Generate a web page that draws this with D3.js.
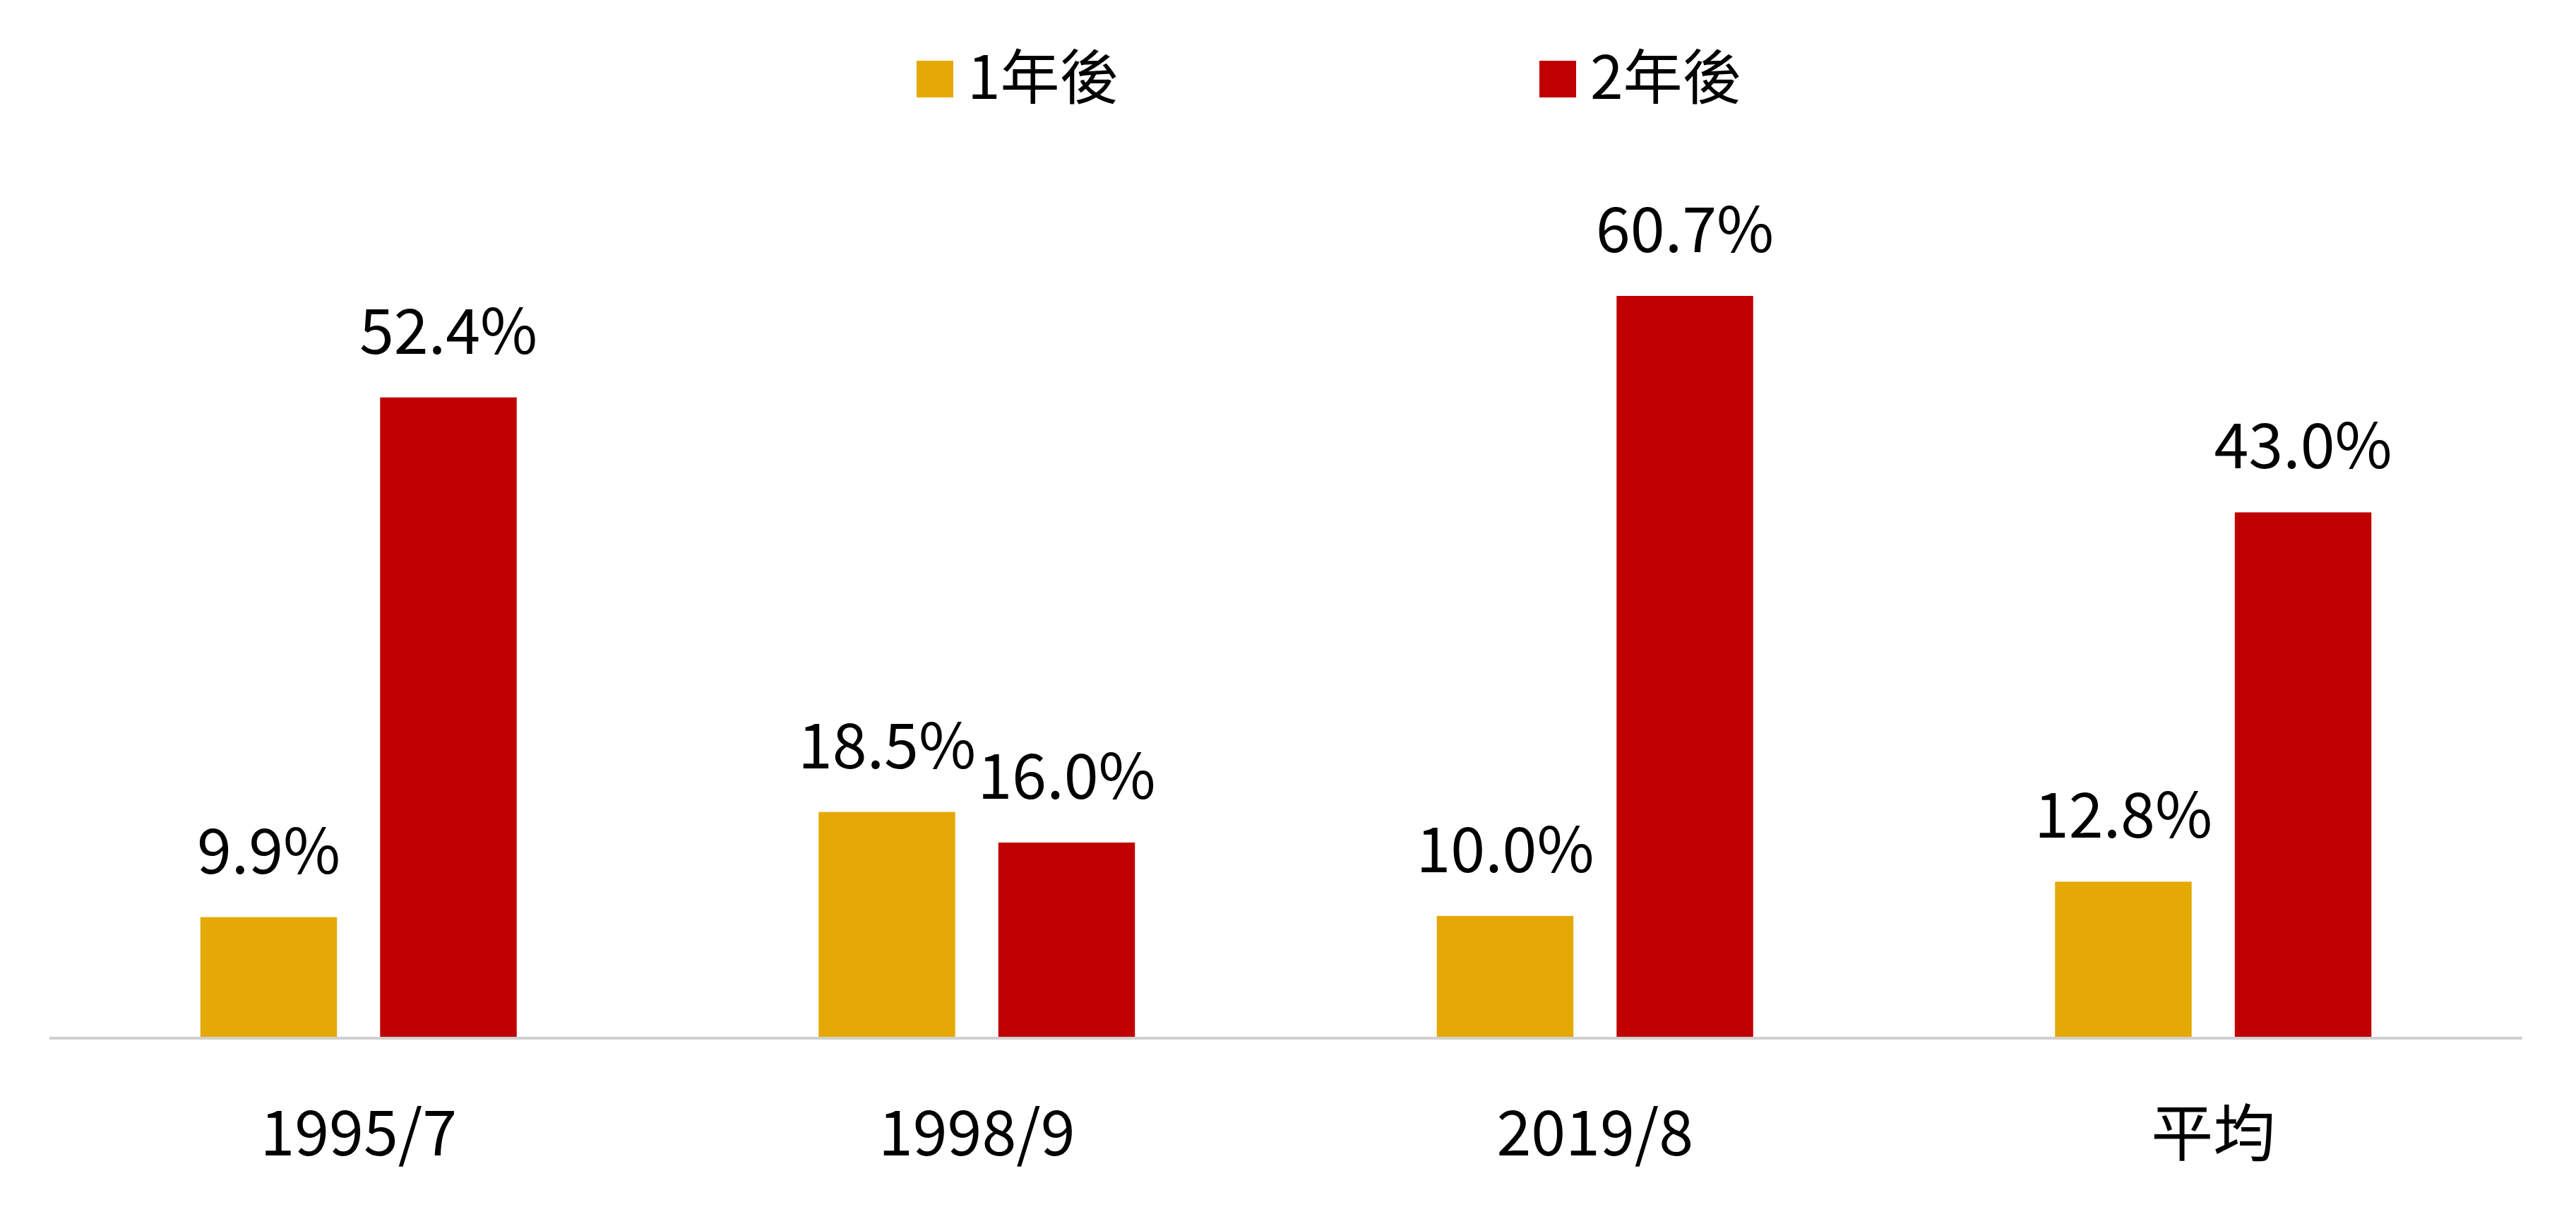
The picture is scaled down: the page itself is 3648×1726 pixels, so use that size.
<!DOCTYPE html>
<html><head><meta charset="utf-8">
<script src="https://cdn.jsdelivr.net/npm/d3@7"></script>
<style>body{margin:0;background:#fff}text{font-family:"Noto Sans CJK TC","Noto Sans",sans-serif;fill:#000}</style>
</head><body><svg id="c" width="3648" height="1726"></svg>
<script>
var categories = ["1995/7", "1998/9", "2019/8", "平均"];
var seriesNames = ["1年後", "2年後"];
var oneYear = [9.9, 18.5, 10.0, 12.8];
var twoYear = [52.4, 16.0, 60.7, 43.0];
var colors = ["#E5A905", "#C00000"];

var svg = d3.select("#c");
var x = d3.scaleBand().domain(categories).range([70, 3572]);
var y = d3.scaleLinear().domain([0, 60.7]).range([1470, 419]);
var sub = d3.scaleBand().domain([0, 1]).range([-224, 224]).paddingInner(0.24).paddingOuter(0);

var groups = svg.selectAll("g.cat").data(categories).enter().append("g")
	.attr("transform", function(d) { return "translate(" + (x(d) + x.bandwidth() / 2) + ",0)"; });

[oneYear, twoYear].forEach(function(vals, s){
	groups.append("rect")
		.attr("x", sub(s)).attr("width", sub.bandwidth())
		.attr("y", function(d, i) { return y(vals[i]); })
		.attr("height", function(d, i) { return y(0) - y(vals[i]); })
		.attr("fill", colors[s]);
	groups.append("text")
		.attr("x", sub(s) + sub.bandwidth() / 2)
		.attr("y", function(d, i) { return y(vals[i]) - 62; })
		.attr("text-anchor", "middle").attr("font-size", 88)
		.text(function(d, i) { return vals[i].toFixed(1) + "%"; });
});

svg.append("line").attr("x1", 70).attr("x2", 3572).attr("y1", y(0)).attr("y2", y(0))
	.attr("stroke", "#d0d0d0").attr("stroke-width", 4);

groups.append("text").attr("y", 1636).attr("text-anchor", "middle").attr("font-size", 88)
	.text(function(d) { return d; });

var legendX = [1298, 2180];
seriesNames.forEach(function(n, i){
	svg.append("rect").attr("x", legendX[i]).attr("y", 86).attr("width", 52).attr("height", 52).attr("fill", colors[i]);
	svg.append("text").attr("x", legendX[i] + 72).attr("y", 140).attr("font-size", 84).text(n);
});
</script></body></html>
